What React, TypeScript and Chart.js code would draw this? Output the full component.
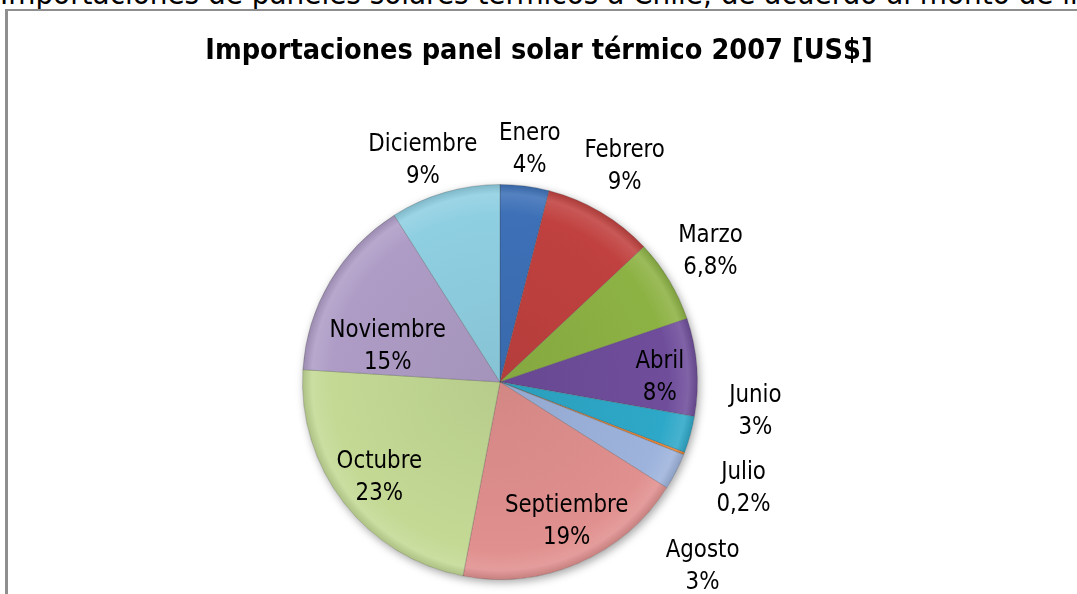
import React, { useEffect, useRef } from "react";
import { Chart, registerables } from "chart.js";

Chart.register(...registerables);

// ---- data ----
const pageHeading =
  "Importaciones de paneles solares térmicos a Chile, de acuerdo al monto de importación";
const chartTitle = "Importaciones panel solar térmico 2007 [US$]";
const months = [
  "Enero",
  "Febrero",
  "Marzo",
  "Abril",
  "Junio",
  "Julio",
  "Agosto",
  "Septiembre",
  "Octubre",
  "Noviembre",
  "Diciembre",
];
const shares = [4, 9, 6.8, 8, 3, 0.2, 3, 19, 23, 15, 9];
const shareLabels = ["4%", "9%", "6,8%", "8%", "3%", "0,2%", "3%", "19%", "23%", "15%", "9%"];
const sliceColors = [
  "#3D70B7",
  "#C0413F",
  "#8DB244",
  "#6F4D9B",
  "#2EA8C8",
  "#E8822F",
  "#9DB3DC",
  "#E0908E",
  "#C3D994",
  "#AE9CC6",
  "#8FCFE2",
];

const FONT = "'DejaVu Sans Condensed', 'DejaVu Sans', sans-serif";

// label layout (angle shift in degrees, distance as share of radius)
const LABEL_SHIFT = [0, -0.8, -1.3, 1.8, -9.5, 1.8, 15, -2.6, 0.3, -12, -2.8];
const LABEL_RADIUS = [1.2, 1.27, 1.26, 0.81, 1.3, 1.34, 1.38, 0.77, 0.77, 0.6, 1.2];

function shade(hex: string, amt: number) {
  const n = parseInt(hex.slice(1), 16);
  const r = (n >> 16) & 255,
    g = (n >> 8) & 255,
    b = n & 255;
  const f = (c: number) =>
    Math.round(amt >= 0 ? c + (255 - c) * amt : c * (1 + amt));
  return `rgb(${f(r)},${f(g)},${f(b)})`;
}

function squeezedText(ctx: CanvasRenderingContext2D, t: string, x: number, y: number, sx: number) {
  ctx.save();
  ctx.translate(x, y);
  ctx.scale(sx, 1);
  ctx.fillText(t, 0, 0);
  ctx.restore();
}

const shadowPlugin = {
  id: "pieShadow",
  beforeDatasetsDraw(chart: any) {
    const arc = chart.getDatasetMeta(0).data[0];
    if (!arc) return;
    const { x, y, outerRadius } = arc.getProps(["x", "y", "outerRadius"], true);
    const ctx = chart.ctx;
    ctx.save();
    ctx.shadowColor = "rgba(0,0,0,0.35)";
    ctx.shadowBlur = 9;
    ctx.shadowOffsetX = 2;
    ctx.shadowOffsetY = 3;
    ctx.beginPath();
    ctx.arc(x, y, outerRadius, 0, Math.PI * 2);
    ctx.fillStyle = "#ffffff";
    ctx.fill();
    ctx.restore();
  },
};

const labelPlugin = {
  id: "sliceLabels",
  afterDatasetsDraw(chart: any) {
    const meta = chart.getDatasetMeta(0);
    const ctx = chart.ctx;
    ctx.save();
    ctx.fillStyle = "#000";
    ctx.textAlign = "center";
    ctx.textBaseline = "alphabetic";
    ctx.font = `25px ${FONT}`;
    meta.data.forEach((arc: any, i: number) => {
      const { x, y, startAngle, endAngle, outerRadius } = arc.getProps(
        ["x", "y", "startAngle", "endAngle", "outerRadius"],
        true
      );
      const mid = (startAngle + endAngle) / 2 + (LABEL_SHIFT[i] * Math.PI) / 180;
      const r = outerRadius * LABEL_RADIUS[i];
      const cx = x + Math.cos(mid) * r;
      const cy = y + Math.sin(mid) * r;
      squeezedText(ctx, months[i], cx, cy - 16 + 9, 0.95);
      squeezedText(ctx, shareLabels[i], cx, cy + 16 + 9, 0.95);
    });
    ctx.font = `bold 29px ${FONT}`;
    squeezedText(ctx, chartTitle, 539, 59, 0.985);
    ctx.restore();
  },
};

export default function App() {
  const ref = useRef<HTMLCanvasElement | null>(null);

  useEffect(() => {
    if (!ref.current) return;
    const chart = new Chart(ref.current, {
      type: "pie",
      data: {
        labels: months,
        datasets: [
          {
            data: shares,
            backgroundColor: (c: any) => {
              const base = sliceColors[c.dataIndex % sliceColors.length];
              const area = c.chart.chartArea;
              if (!area) return base;
              const cx = (area.left + area.right) / 2;
              const cy = (area.top + area.bottom) / 2;
              const r = Math.min(area.right - area.left, area.bottom - area.top) / 2;
              const g = c.chart.ctx.createRadialGradient(cx, cy, 0, cx, cy, r);
              g.addColorStop(0, shade(base, -0.06));
              g.addColorStop(0.85, base);
              g.addColorStop(0.95, shade(base, 0.12));
              g.addColorStop(1, shade(base, -0.12));
              return g;
            },
            borderColor: "rgba(60,60,60,0.25)",
            borderWidth: 1,
          },
        ],
      },
      options: {
        animation: false,
        responsive: false,
        maintainAspectRatio: false,
        layout: { padding: { top: 184, bottom: 14, left: 250, right: 327 } },
        plugins: {
          legend: { display: false },
          tooltip: { enabled: false },
          title: { display: false },
        },
      },
      plugins: [shadowPlugin, labelPlugin],
    });
    return () => chart.destroy();
  }, []);

  return (
    <div
      style={{
        position: "fixed",
        left: 0,
        top: 0,
        width: 1077,
        height: 594,
        overflow: "hidden",
        background: "#fff",
      }}
    >
      <div
        style={{
          position: "absolute",
          left: 0,
          top: -24,
          whiteSpace: "nowrap",
          fontFamily: FONT,
          fontSize: 31,
          lineHeight: "34px",
          color: "#000",
        }}
      >
        {pageHeading}
      </div>
      <div
        style={{
          position: "absolute",
          left: 5,
          top: 9,
          width: 1100,
          height: 700,
          borderLeft: "3px solid #8f8f8f",
          borderTop: "2px solid #8f8f8f",
          boxSizing: "border-box",
        }}
      />
      <canvas
        ref={ref}
        width={1077}
        height={594}
        style={{ position: "absolute", left: 0, top: 0, width: 1077, height: 594 }}
      />
    </div>
  );
}
